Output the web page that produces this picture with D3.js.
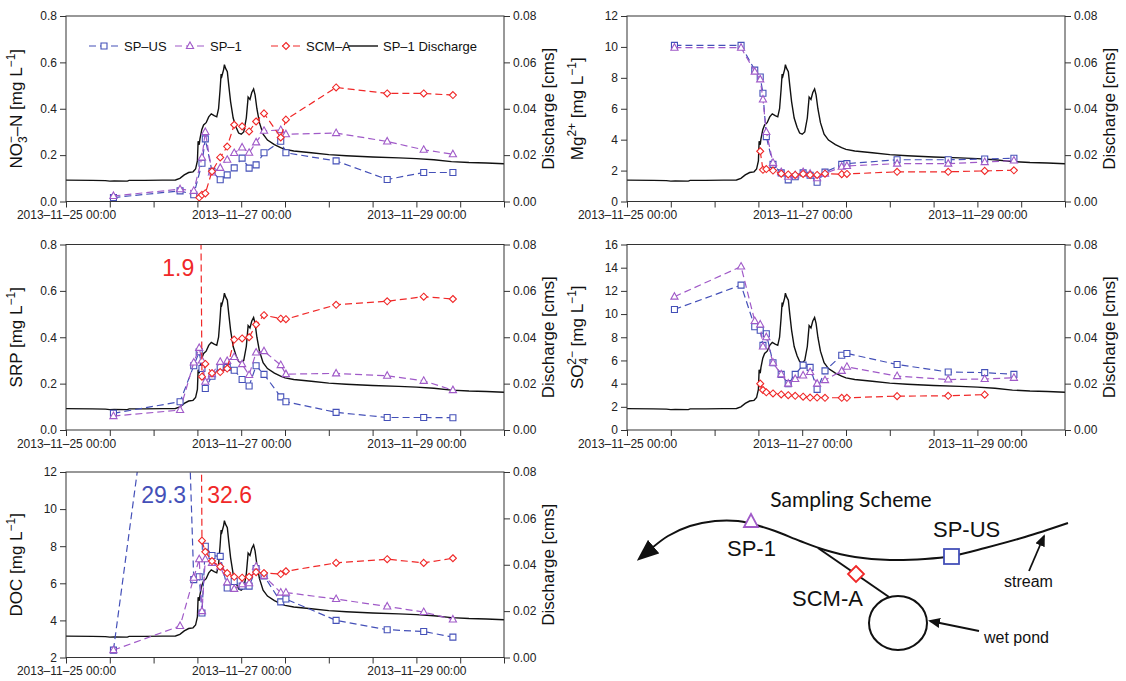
<!DOCTYPE html>
<html lang="en">
<head>
<meta charset="UTF-8">
<title>Storm event chemistry at SP-US, SP-1 and SCM-A</title>
<script src="https://d3js.org/d3.v7.min.js"></script>
<style>
  body { margin: 0; background: #fff; }
  svg { display: block; font-family: "Liberation Sans", Arial, Helvetica, sans-serif; }
  .tick text { font-size: 12px; fill: #222; }
  .tick line { stroke: #333; }
  .axis-title { font-size: 17px; fill: #111; }
  .legend text { font-size: 13px; fill: #111; }
  .note { font-size: 23px; }
  .scheme text { fill: #111; }
</style>
</head>
<body>
<svg width="1126" height="681"></svg>
<script>
// ---- data ----
// sampling times at the two stream sites
const sampleTimes = ["2013-11-25 13:00", "2013-11-26 07:15", "2013-11-26 11:00", "2013-11-26 12:30",
  "2013-11-26 13:15", "2013-11-26 14:10", "2013-11-26 16:00", "2013-11-26 18:15", "2013-11-26 20:10",
  "2013-11-26 22:05", "2013-11-27 00:15", "2013-11-27 02:10", "2013-11-27 04:05", "2013-11-27 06:15",
  "2013-11-27 10:50", "2013-11-27 12:15", "2013-11-28 02:00", "2013-11-28 16:00", "2013-11-29 02:00",
  "2013-11-29 10:00"];
// sampling times at the pond outlet
const scmTimes = ["2013-11-26 12:30", "2013-11-26 13:15", "2013-11-26 14:10", "2013-11-26 16:00",
  "2013-11-26 18:15", "2013-11-26 20:10", "2013-11-26 22:05", "2013-11-27 00:15", "2013-11-27 02:10",
  "2013-11-27 04:05", "2013-11-27 06:15", "2013-11-27 10:50", "2013-11-27 12:15", "2013-11-28 02:00",
  "2013-11-28 16:00", "2013-11-29 02:00", "2013-11-29 10:00"];

const no3US  = [0.017, 0.046, 0.029, null, 0.165, 0.27, 0.13, 0.094, 0.115, 0.145, 0.187, 0.144, 0.158, 0.21, 0.26, 0.21, 0.175, 0.095, 0.125, 0.125];
const no3SP1 = [0.024, 0.053, 0.046, null, 0.19, 0.30, 0.125, 0.145, 0.18, 0.209, 0.233, 0.21, 0.255, 0.305, 0.308, 0.29, 0.295, 0.259, 0.223, 0.204];
const no3SCM = [0.017, 0.029, 0.035, 0.13, 0.19, 0.237, 0.331, 0.324, 0.302, 0.345, 0.38, 0.276, 0.353, 0.492, 0.466, 0.466, 0.459];

const mgUS  = [10.1, 10.1, 8.5, 8.05, 7.0, 4.2, 2.4, 1.85, 1.4, 1.6, 1.85, 1.7, 1.25, 1.9, 2.4, 2.45, 2.7, 2.7, 2.75, 2.8];
const mgSP1 = [9.95, 9.95, 8.4, 7.9, 6.6, 4.5, 2.5, 1.9, 1.6, 1.7, 1.9, 1.8, 1.5, 1.8, 2.25, 2.3, 2.45, 2.45, 2.55, 2.65];
const mgSCM = [3.25, 2.05, 2.1, 2.0, 1.8, 1.75, 1.72, 1.78, 1.72, 1.72, 1.8, 1.77, 1.78, 1.92, 1.92, 1.98, 2.02];

const srpUS  = [0.072, 0.122, 0.277, 0.337, 0.265, 0.179, 0.232, 0.272, 0.27, 0.258, 0.218, 0.19, 0.277, 0.24, 0.143, 0.122, 0.076, 0.054, 0.054, 0.053];
const srpSP1 = [0.06, 0.086, 0.291, 0.354, 0.30, 0.208, 0.241, 0.294, 0.298, 0.315, 0.284, 0.237, 0.334, 0.34, 0.28, 0.241, 0.244, 0.234, 0.212, 0.172];
const srpSCM = [1.9, 0.23, 0.285, 0.245, 0.25, 0.265, 0.39, 0.395, 0.40, 0.455, 0.495, 0.48, 0.478, 0.54, 0.555, 0.575, 0.565];

const so4US  = [10.4, 12.5, 8.9, 8.6, 7.3, 8.3, 5.8, 4.8, 4.0, 4.8, 5.6, 5.4, 3.5, 5.1, 6.45, 6.6, 5.65, 5.0, 4.95, 4.8];
const so4SP1 = [11.5, 14.1, 9.4, 9.1, 7.2, 8.0, 5.8, 4.8, 4.0, 4.4, 4.7, 5.0, 4.0, 4.3, 5.1, 5.45, 4.65, 4.35, 4.4, 4.5];
const so4SCM = [4.0, 3.45, 3.25, 3.15, 3.07, 3.0, 2.95, 2.87, 2.8, 2.8, 2.78, 2.78, 2.78, 2.92, 2.95, 3.05, null];

const docUS  = [2.4, 29.3, 6.2, 6.35, 4.4, 8.0, 7.5, 7.45, 5.75, 6.1, 5.85, 5.85, 6.8, 6.4, 5.0, 5.15, 4.0, 3.5, 3.4, 3.1];
const docSP1 = [2.4, 3.7, 6.3, 7.3, 4.5, 7.3, 7.1, 6.9, 6.05, 5.7, 5.95, 6.0, 6.9, 6.4, 5.5, 5.5, 5.15, 4.75, 4.45, 4.05];
const docSCM = [32.6, 8.3, 7.7, 7.2, 6.9, 6.55, 6.35, 6.3, 6.35, 6.6, 6.55, 6.5, 6.65, 7.1, 7.3, 7.1, 7.35];

// SP-1 discharge: hours after 2013-11-25 00:00, and flow in cms
const dischargeHours = [0, 7.2, 10.8, 12, 13.2, 16.8, 17.3, 21.6, 26.4, 30, 31.2, 32.4, 33.6, 34.8, 35.5, 36,
  36.2, 36.5, 36.7, 37.2, 37.7, 38.4, 39.1, 39.8, 40.6, 41.3, 41.8, 42.2, 42.5, 42.7, 43.2, 43.4, 43.7, 44.2,
  44.6, 45.1, 45.8, 46.6, 47.3, 48, 48.7, 49.4, 49.9, 50.4, 50.9, 51.4, 51.8, 52.3, 53, 54, 55.2, 57.1, 58.8,
  60, 62.4, 67.2, 72, 76.8, 84, 91.2, 96, 100.8, 105.6, 110.4, 115.2, 120];
const dischargeCms = [0.0092, 0.0091, 0.0090, 0.0088, 0.0089, 0.0088, 0.0091, 0.0091, 0.0092, 0.0093, 0.0100,
  0.0115, 0.0125, 0.0128, 0.0140, 0.0175, 0.0260, 0.0245, 0.0270, 0.0310, 0.0330, 0.0340, 0.0365, 0.0378,
  0.0370, 0.0365, 0.0400, 0.0480, 0.0550, 0.0540, 0.0570, 0.0590, 0.0575, 0.0560, 0.0500, 0.0430, 0.0360,
  0.0320, 0.0295, 0.0290, 0.0300, 0.0360, 0.0450, 0.0440, 0.0470, 0.0485, 0.0460, 0.0400, 0.0340, 0.0290,
  0.0265, 0.0245, 0.0232, 0.0225, 0.0218, 0.0210, 0.0202, 0.0197, 0.0192, 0.0188, 0.0185, 0.0180, 0.0172,
  0.0168, 0.0166, 0.0163];

const seriesNames = ["SP\u2013US", "SP\u20131", "SCM\u2013A", "SP\u20131 Discharge"];
const xLabelDates = ["2013-11-25 00:00", "2013-11-27 00:00", "2013-11-29 00:00"];
const ticksNO3 = [0, 0.2, 0.4, 0.6, 0.8];
const ticksMg = [0, 2, 4, 6, 8, 10, 12];
const ticksSRP = [0, 0.2, 0.4, 0.6, 0.8];
const ticksSO4 = [0, 2, 4, 6, 8, 10, 12, 14, 16];
const ticksDOC = [2, 4, 6, 8, 10, 12];
const ticksQ = [0, 0.02, 0.04, 0.06, 0.08];

// ---- setup ----
const svg = d3.select("svg");
const parseTime = d3.utcParse("%Y-%m-%d %H:%M");
const t0 = parseTime("2013-11-25 00:00");
const t1 = parseTime("2013-11-30 00:00");
const fmtTime = d3.utcFormat("%Y\u2013%m\u2013%d %H:%M");
const labelSet = new Set(xLabelDates.map(s => +parseTime(s)));

const colX = [66, 627], plotW = 438;
const rowY = [16, 244.5, 472], plotH = 185.5;

const colors = { us: "#4450b8", sp1: "#a05ac8", scm: "#f02828" };

const discharge = dischargeHours.map((h, i) => ({ t: d3.utcMinute.offset(t0, Math.round(h * 60)), v: dischargeCms[i] }));
const spT = sampleTimes.map(parseTime);
const scmT = scmTimes.map(parseTime);

const symbols = {
    us: "M-3,-3h6v6h-6Z",
    sp1: "M0,-4L3.6,2.5L-3.6,2.5Z",
    scm: "M0,-3.5L3.5,0L0,3.5L-3.5,0Z"
};

const panels = [
    { id: "no3", col: 0, row: 0, domain: [0, 0.8], ticks: ticksNO3, fmt: ".1f",
      title: [["NO", 0], ["3", 5], ["\u2212", -7, -7], ["\u2013N [mg L", 0], ["\u22121", -7], ["]", 0]],
      us: no3US, sp1: no3SP1, scm: no3SCM, legend: true },
    { id: "mg", col: 1, row: 0, domain: [0, 12], ticks: ticksMg, fmt: "d",
      title: [["Mg", 0], ["2+", -7], [" [mg L", 0], ["\u22121", -7], ["]", 0]],
      us: mgUS, sp1: mgSP1, scm: mgSCM },
    { id: "srp", col: 0, row: 1, domain: [0, 0.8], ticks: ticksSRP, fmt: ".1f",
      title: [["SRP [mg L", 0], ["\u22121", -7], ["]", 0]],
      us: srpUS, sp1: srpSP1, scm: srpSCM },
    { id: "so4", col: 1, row: 1, domain: [0, 16], ticks: ticksSO4, fmt: "d",
      title: [["SO", 0], ["4", 5], ["2\u2212", -7, -7], [" [mg L", 0], ["\u22121", -7], ["]", 0]],
      us: so4US, sp1: so4SP1, scm: so4SCM },
    { id: "doc", col: 0, row: 2, domain: [2, 12], ticks: ticksDOC, fmt: "d",
      title: [["DOC [mg L", 0], ["\u22121", -7], ["]", 0]],
      us: docUS, sp1: docSP1, scm: docSCM }
];

// values that run off the top of a panel get their number written in
const notes = [
    { panel: "srp", series: "scm", index: 0, anchor: "end", dx: -5 },
    { panel: "doc", series: "us", index: 1, anchor: "end", dx: 6 },
    { panel: "doc", series: "scm", index: 0, anchor: "start", dx: 8 }
];

const x = d3.scaleUtc().domain([t0, t1]).range([0, plotW]);
const yQ = d3.scaleLinear().domain([0, 0.08]).range([plotH, 0]);
const xTicks = d3.utcHour.every(12).range(t0, d3.utcHour.offset(t1, 1));

function addTitle(sel, parts) {
    let prev = 0;
    parts.forEach(([txt, shift, dx]) => {
        const ts = sel.append("tspan").text(txt)
            .attr("dy", shift - prev)
            .style("font-size", shift === 0 ? "17px" : "12px");
        if (dx) ts.attr("dx", dx);
        prev = shift;
    });
}

panels.forEach(p => {
    const left = colX[p.col], top = rowY[p.row];
    const g = svg.append("g").attr("transform", `translate(${left},${top})`);
    const y = d3.scaleLinear().domain(p.domain).range([plotH, 0]);

    const clipId = "clip-" + p.id;
    g.append("clipPath").attr("id", clipId)
        .append("rect").attr("width", plotW).attr("height", plotH);
    const plot = g.append("g").attr("clip-path", `url(#${clipId})`);

    plot.append("path")
        .datum(discharge)
        .attr("fill", "none")
        .attr("stroke", "#111")
        .attr("stroke-width", 1.4)
        .attr("d", d3.line().x(d => x(d.t)).y(d => yQ(d.v)));

    ["us", "sp1", "scm"].forEach(key => {
        const times = key === "scm" ? scmT : spT;
        const pts = p[key].map((v, i) => ({ t: times[i], v })).filter(d => d.v !== null);
        plot.append("path")
            .datum(pts)
            .attr("fill", "none")
            .attr("stroke", colors[key])
            .attr("stroke-width", 1.2)
            .attr("stroke-dasharray", "7,4")
            .attr("d", d3.line().x(d => x(d.t)).y(d => y(d.v)));
        plot.selectAll(".m-" + key)
            .data(pts.filter(d => d.v <= p.domain[1]))
            .enter().append("path")
            .attr("class", "m-" + key)
            .attr("transform", d => `translate(${x(d.t)},${y(d.v)})`)
            .attr("d", symbols[key])
            .attr("fill", "#fff")
            .attr("stroke", colors[key])
            .attr("stroke-width", 1.1);
    });

    // frame
    g.append("rect")
        .attr("width", plotW).attr("height", plotH)
        .attr("fill", "none").attr("stroke", "#333").attr("stroke-width", 1);

    const xAxis = g.append("g").attr("transform", `translate(0,${plotH})`)
        .call(d3.axisBottom(x).tickValues(xTicks).tickSize(6).tickPadding(3)
            .tickFormat(d => labelSet.has(+d) ? fmtTime(d) : ""));
    const yAxis = g.append("g")
        .call(d3.axisLeft(y).tickValues(p.ticks).tickSize(6).tickPadding(3).tickFormat(d3.format(p.fmt)));
    const qAxis = g.append("g").attr("transform", `translate(${plotW},0)`)
        .call(d3.axisRight(yQ).tickValues(ticksQ).tickSize(6).tickPadding(3).tickFormat(d3.format(".2f")));
    [xAxis, yAxis, qAxis].forEach(a => {
        a.select(".domain").remove();
        a.selectAll("text").attr("font-family", null).attr("font-size", null);
    });

    const yt = g.append("text")
        .attr("class", "axis-title")
        .attr("text-anchor", "middle")
        .attr("transform", `translate(-44,${plotH / 2}) rotate(-90)`);
    addTitle(yt, p.title);

    g.append("text")
        .attr("class", "axis-title")
        .attr("text-anchor", "middle")
        .attr("transform", `translate(${plotW + 50},${plotH / 2}) rotate(-90)`)
        .text("Discharge [cms]");

    notes.filter(n => n.panel === p.id).forEach(n => {
        const times = n.series === "scm" ? scmT : spT;
        g.append("text")
            .attr("class", "note")
            .attr("fill", colors[n.series])
            .attr("text-anchor", n.anchor)
            .attr("x", x(times[n.index]) + n.dx)
            .attr("y", 31)
            .text(p[n.series][n.index]);
    });

    if (p.legend) {
        const legend = g.append("g").attr("class", "legend").attr("transform", "translate(0,30)");
        const items = [
            { key: "us", x: 23 }, { key: "sp1", x: 109 }, { key: "scm", x: 205 }, { key: "q", x: 282 }
        ];
        items.forEach((it, i) => {
            const col = it.key === "q" ? "#111" : colors[it.key];
            legend.append("line")
                .attr("x1", it.x).attr("x2", it.x + 30)
                .attr("stroke", col)
                .attr("stroke-width", it.key === "q" ? 1.4 : 1.2)
                .attr("stroke-dasharray", it.key === "q" ? null : "7,4");
            if (it.key !== "q") {
                legend.append("path")
                    .attr("transform", `translate(${it.x + 15},0)`)
                    .attr("d", symbols[it.key])
                    .attr("fill", "#fff").attr("stroke", col).attr("stroke-width", 1.1);
            }
            legend.append("text")
                .attr("x", it.x + 35)
                .attr("dy", "0.35em")
                .text(seriesNames[i]);
        });
    }
});

// ---- sampling scheme sketch ----
const scheme = svg.append("g").attr("class", "scheme");
const defs = svg.append("defs");
defs.append("marker")
    .attr("id", "bigHead").attr("markerUnits", "userSpaceOnUse")
    .attr("viewBox", "0 -8 20 16").attr("refX", 2).attr("refY", 0)
    .attr("markerWidth", 22).attr("markerHeight", 18).attr("orient", "auto-start-reverse")
    .append("path").attr("d", "M0,-8L20,0L0,8Z").attr("fill", "#111");
defs.append("marker")
    .attr("id", "smallHead").attr("markerUnits", "userSpaceOnUse")
    .attr("viewBox", "0 -5 12 10").attr("refX", 10).attr("refY", 0)
    .attr("markerWidth", 12).attr("markerHeight", 10).attr("orient", "auto")
    .append("path").attr("d", "M0,-5L12,0L0,5Z").attr("fill", "#111");

const streamPts = [[652, 548], [668, 536], [690, 526], [715, 521], [738, 521], [752, 524], [775, 531],
    [800, 541], [825, 550], [855, 557], [890, 560], [925, 559], [952, 556], [985, 548], [1025, 537], [1068, 523]];

scheme.append("text")
    .attr("x", 851).attr("y", 507)
    .attr("text-anchor", "middle")
    .style("font-family", "Lato, 'Open Sans', sans-serif")
    .style("font-size", "21px")
    .text("Sampling Scheme");

scheme.append("path")
    .attr("d", d3.line().curve(d3.curveCatmullRom)(streamPts))
    .attr("fill", "none").attr("stroke", "#111").attr("stroke-width", 2)
    .attr("marker-start", "url(#bigHead)");

scheme.append("line")
    .attr("x1", 818).attr("y1", 548).attr("x2", 889).attr("y2", 597)
    .attr("stroke", "#111").attr("stroke-width", 2);

scheme.append("ellipse")
    .attr("cx", 898).attr("cy", 623).attr("rx", 29).attr("ry", 27)
    .attr("fill", "#fff").attr("stroke", "#111").attr("stroke-width", 2);

scheme.append("path").attr("d", "M751,514L758,527L744,527Z")
    .attr("fill", "#fff").attr("stroke", colors.sp1).attr("stroke-width", 1.8);
scheme.append("rect").attr("x", 944).attr("y", 549).attr("width", 15).attr("height", 15)
    .attr("fill", "#fff").attr("stroke", colors.us).attr("stroke-width", 1.8);
scheme.append("path").attr("d", "M856,566L864,574L856,582L848,574Z")
    .attr("fill", "#fff").attr("stroke", colors.scm).attr("stroke-width", 1.8);

scheme.append("line").attr("x1", 1029).attr("y1", 571).attr("x2", 1044).attr("y2", 536)
    .attr("stroke", "#111").attr("stroke-width", 1.8).attr("marker-end", "url(#smallHead)");
scheme.append("line").attr("x1", 979).attr("y1", 631).attr("x2", 930).attr("y2", 621)
    .attr("stroke", "#111").attr("stroke-width", 1.8).attr("marker-end", "url(#smallHead)");

const schemeLabels = [
    { text: "SP-1", x: 727, y: 556, size: 22 },
    { text: "SP-US", x: 933, y: 537, size: 22 },
    { text: "SCM-A", x: 792, y: 606, size: 22 },
    { text: "stream", x: 1004, y: 587, size: 16 },
    { text: "wet pond", x: 984, y: 643, size: 16 }
];
scheme.selectAll(".slabel")
    .data(schemeLabels)
    .enter().append("text")
    .attr("class", "slabel")
    .attr("x", d => d.x).attr("y", d => d.y)
    .style("font-size", d => d.size + "px")
    .text(d => d.text);
</script>
</body>
</html>
